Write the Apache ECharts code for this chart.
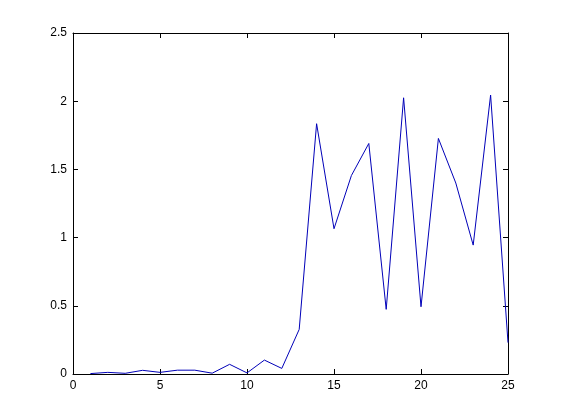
<!DOCTYPE html>
<html>
<head>
<meta charset="utf-8">
<script src="https://cdn.jsdelivr.net/npm/echarts@6/dist/echarts.min.js"></script>
<style>html,body{margin:0;padding:0;background:#fff;}#c{width:561px;height:420px;}</style>
</head>
<body>
<div id="c"></div>
<script>
var xValues = [1,2,3,4,5,6,7,8,9,10,11,12,13,14,15,16,17,18,19,20,21,22,23,24,25];
var yValues = [0.003,0.012,0.005,0.027,0.012,0.028,0.028,0.006,0.071,0.008,0.102,0.041,0.327,1.835,1.065,1.455,1.69,0.474,2.025,0.493,1.727,1.40,0.945,2.045,0.23];
var xTicks = [0,5,10,15,20,25];
var yTicks = [0,0.5,1,1.5,2,2.5];

var chart = echarts.init(document.getElementById('c'), null, {renderer:'canvas'});
var font = {color:'#000', fontSize:12, fontFamily:'Liberation Sans, Arial, sans-serif'};
function axisBase(pos, show){
  return {
    type:'value', position:pos,
    axisLine:{show:true, onZero:false, lineStyle:{color:'#000', width:1}},
    axisTick:{show:true, inside:true, length:5, lineStyle:{color:'#000'}},
    splitLine:{show:false},
    axisLabel:Object.assign({show:show, margin:6}, font)
  };
}
var xb = Object.assign(axisBase('bottom', true), {min:0, max:25, interval:5});
xb.axisLabel.formatter = function(v){ return xTicks.indexOf(v)>=0 ? String(v) : ''; };
var xt = Object.assign(axisBase('top', false), {min:0, max:25, interval:5});
var yl = Object.assign(axisBase('left', true), {min:0, max:2.5, interval:0.5});
yl.axisLabel.formatter = function(v){ return yTicks.indexOf(v)>=0 ? String(v) : ''; };
var yr = Object.assign(axisBase('right', false), {min:0, max:2.5, interval:0.5});

chart.setOption({
  backgroundColor:'#fff',
  animation:false,
  grid:{left:73, right:53, top:33, bottom:46, containLabel:false},
  xAxis:[xb, xt],
  yAxis:[yl, yr],
  series:[{
    type:'line',
    data:xValues.map(function(x,i){return [x, yValues[i]];}),
    showSymbol:false,
    symbol:'none',
    lineStyle:{color:'#0000b8', width:1},
    itemStyle:{color:'#0000b8'}
  }]
});
</script>
</body>
</html>
